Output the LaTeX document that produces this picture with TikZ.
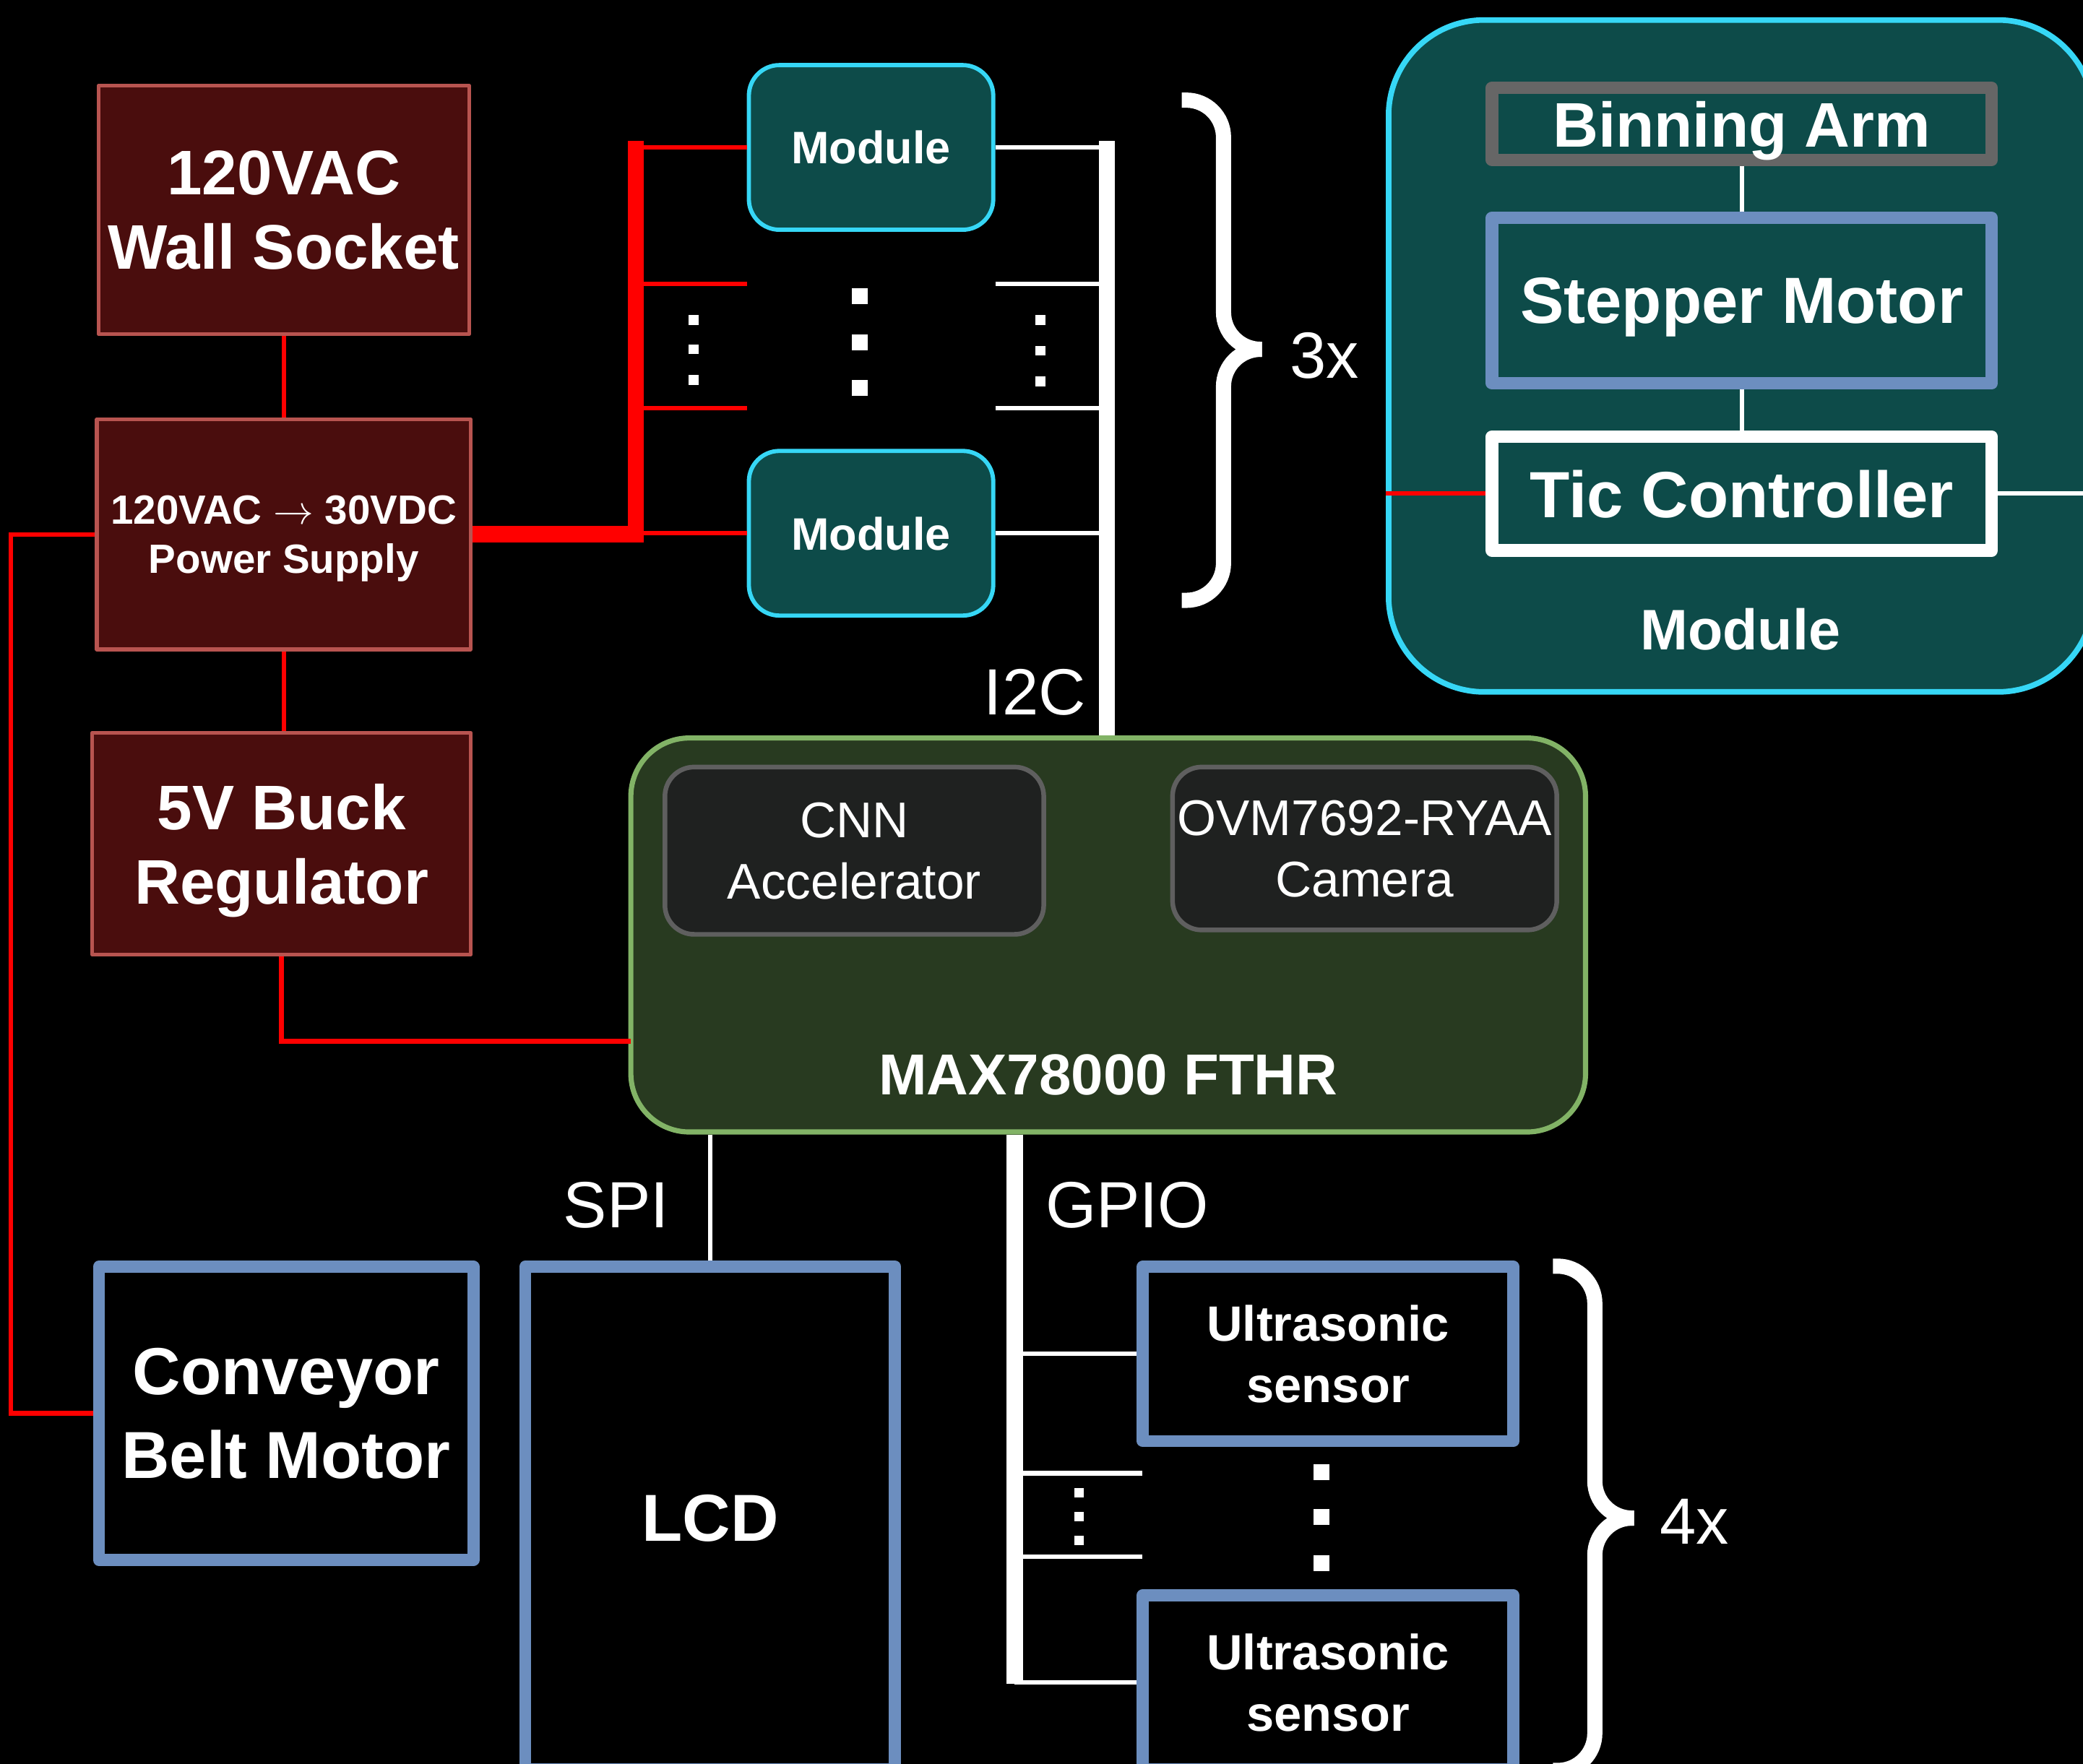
\documentclass[tikz,border=0pt]{standalone}
\usepackage{fontspec}
\setmainfont{Liberation Sans}
\usepackage{tikz}
\usetikzlibrary{shapes,positioning,calc}

\definecolor{pwrfill}{HTML}{4A0D0D}
\definecolor{pwredge}{HTML}{B85450}
\definecolor{modfill}{HTML}{0D4B49}
\definecolor{modedge}{HTML}{36D7F6}
\definecolor{mcufill}{HTML}{283A20}
\definecolor{mcuedge}{HTML}{82B366}
\definecolor{chipfill}{HTML}{1F2120}
\definecolor{chipedge}{HTML}{5F5F5F}
\definecolor{devedge}{HTML}{6C8EBF}
\definecolor{armedge}{HTML}{666666}

\tikzstyle{power} = [rectangle, draw=pwredge, fill=pwrfill, line width=1.6pt, line join=round, text=white, align=center, inner sep=0pt, text depth=0pt]
\tikzstyle{device} = [rectangle, draw=devedge, line width=5.2pt, line join=round, text=white, align=center, inner sep=0pt, text depth=0pt]
\tikzstyle{part} = [rectangle, line width=5.35pt, line join=round, text=white, inner sep=0pt, text depth=0pt, minimum width=7.526cm, font=\fontsize{28}{32}\selectfont\bfseries]
\tikzstyle{modbox} = [rectangle, rounded corners=0.46cm, draw=modedge, fill=modfill, line width=1.8pt, text=white, inner sep=0pt, text depth=0pt, font=\fontsize{19.5}{23}\selectfont\bfseries]
\tikzstyle{chip} = [rectangle, rounded corners=0.44cm, draw=chipedge, fill=chipfill, line width=2pt, text=white, align=center, inner sep=0pt, text depth=0pt, font=\fontsize{21.5}{26.5}\selectfont]
\tikzstyle{buslbl} = [text=white, inner sep=0pt, text depth=0pt, font=\fontsize{28}{32}\selectfont]
\tikzstyle{redline} = [red, line width=1.95pt]
\tikzstyle{redrail} = [red, line width=7pt]
\tikzstyle{sigline} = [white, line width=1.9pt]
\tikzstyle{sigbus} = [white, line width=7pt]
\tikzstyle{curly} = [white, line width=6.5pt, rounded corners=0.56cm]

\begin{document}
\begin{tikzpicture}[x=0.02cm, y=-0.02cm]

\useasboundingbox (0,0) rectangle (1568,1328);
\fill[black] (0,0) rectangle (1568,1328);
\clip (0,0) rectangle (1568,1328);

% Power column
\node (wall) [power, minimum width=5.58cm, minimum height=3.744cm, font=\fontsize{27}{31.7}\selectfont\bfseries] at (213.6,158) {120VAC\\Wall Socket};
\node (psu) [power, minimum width=5.63cm, minimum height=3.468cm, font=\fontsize{17.5}{21.3}\selectfont\bfseries] at (213.6,402.3) {120VAC $\rightarrow$ 30VDC\\Power Supply};
\node (buck) [power, minimum width=5.7cm, minimum height=3.344cm, font=\fontsize{27}{31.9}\selectfont\bfseries] at (211.9,635.3) {5V Buck\\Regulator};

% Modules (3x)
\node (modA) [modbox, minimum width=3.68cm, minimum height=2.48cm] at (655.7,111) {Module};
\node (modB) [modbox, minimum width=3.68cm, minimum height=2.48cm] at (655.7,401.5) {Module};

% Module detail
\node (modbig) [modbox, rounded corners=1.44cm, line width=2.4pt, minimum width=10.616cm, minimum height=10.12cm] at (1310.6,268) {};
\node (arm) [part, draw=armedge, minimum height=1.084cm, font=\fontsize{27}{31}\selectfont\bfseries] at (1311.15,93.3) {Binning Arm};
\node (stepper) [part, draw=devedge, minimum height=2.49cm] at (1311.15,226.35) {Stepper Motor};
\node (tic) [part, draw=white, minimum height=1.714cm] at (1311.15,371.65) {Tic Controller};
\node (modlbl) [buslbl, font=\fontsize{24.5}{28}\selectfont\bfseries] at (1310,473.5) {Module};

% Microcontroller
\node (fthr) [rectangle, rounded corners=0.88cm, draw=mcuedge, fill=mcufill, line width=2.2pt, minimum width=14.376cm, minimum height=5.934cm] at (834.2,703.95) {};
\node (cnn) [chip, minimum width=5.704cm, minimum height=2.52cm] at (643.1,640.5) {CNN\\Accelerator};
\node (cam) [chip, minimum width=5.786cm, minimum height=2.454cm] at (1027.25,638.85) {OVM7692-RYAA\\Camera};
\node (fthrlbl) [buslbl, font=\fontsize{24.75}{28}\selectfont\bfseries] at (834.2,809) {MAX78000 FTHR};

% Outputs and sensors
\node (belt) [device, minimum width=5.638cm, minimum height=4.416cm, font=\fontsize{28.5}{35.9}\selectfont\bfseries] at (215.4,1064.1) {Conveyor\\Belt Motor};
\node (lcd) [device, minimum width=5.568cm, minimum height=7.566cm, font=\fontsize{28.5}{32}\selectfont\bfseries] at (534.6,1142.85) {LCD};
\node (sensA) [device, minimum width=5.578cm, minimum height=2.626cm, font=\fontsize{21.25}{26.3}\selectfont\bfseries] at (999.75,1019.35) {Ultrasonic\\sensor};
\node (sensB) [device, minimum width=5.578cm, minimum height=2.626cm, font=\fontsize{21.25}{26.3}\selectfont\bfseries] at (999.75,1266.65) {Ultrasonic\\sensor};

% Bus labels
\node (i2clbl) [buslbl] at (779,520.8) {I2C};
\node (spilbl) [buslbl] at (463.7,907.4) {SPI};
\node (gpiolbl) [buslbl] at (848.5,907.4) {GPIO};
\node (threex) [buslbl] at (997,267.4) {3x};
\node (fourx) [buslbl] at (1275.4,1145.6) {4x};

% Free ends
\coordinate (railtop) at (478.6,106.2);
\coordinate (i2ctop) at (833.2,106.2);
\coordinate (gpiobot) at (763.8,1268);
\coordinate (pwrStubA) at (562.2,213.7);
\coordinate (pwrStubB) at (562.2,307.3);
\coordinate (i2cStubA) at (749.2,213.7);
\coordinate (i2cStubB) at (749.2,307.3);
\coordinate (gpioStubA) at (860.1,1109.2);
\coordinate (gpioStubB) at (860.1,1172.2);
\coordinate (fthrpwr) at (474.8,784);
\coordinate (ticout) at (1580,371.65);

% Power wiring
\draw [redline] (wall.south) -- (psu.north);
\draw [redline] (psu.south) -- (psu.south |- buck.north);
\draw [redline] (buck.south) |- (fthrpwr);
\draw [redline] (psu.west) -- ++(-63.2,0) |- (belt.west);
\draw [redline] (modA.west -| railtop) -- (modA.west);
\draw [redline] (pwrStubA -| railtop) -- (pwrStubA);
\draw [redline] (pwrStubB -| railtop) -- (pwrStubB);
\draw [redline] (modB.west -| railtop) -- (modB.west);
\draw [redrail] (psu.east) -| (railtop);

% I2C wiring
\draw [sigline] (modA.east) -- (modA.east -| i2ctop);
\draw [sigline] (i2cStubA) -- (i2cStubA -| i2ctop);
\draw [sigline] (i2cStubB) -- (i2cStubB -| i2ctop);
\draw [sigline] (modB.east) -- (modB.east -| i2ctop);
\draw [sigbus] (i2ctop) -- (i2ctop |- fthr.north);

% Inside the module
\draw [sigline] (arm.south) -- (stepper.north);
\draw [sigline] (stepper.south) -- (tic.north);
\draw [redline] (tic.west -| modbig.west) -- (tic.west);
\draw [sigline] (tic.east) -- (ticout);

% SPI and GPIO wiring
\draw [sigline] (fthr.south -| lcd.north) -- (lcd.north);
\draw [sigline] (sensA.west -| gpiobot) -- (sensA.west);
\draw [sigline] (gpioStubA -| gpiobot) -- (gpioStubA);
\draw [sigline] (gpioStubB -| gpiobot) -- (gpioStubB);
\draw [sigline] (sensB.west -| gpiobot) -- (sensB.west);
\draw [sigbus] (gpiobot |- fthr.south) -- (gpiobot);

% Dots
\foreach \y in {241,263,286} \fill[white] (522,\y) +(-3.75,-3.75) rectangle +(3.75,3.75);
\foreach \y in {223,258,292} \fill[white] (647,\y) +(-6,-6) rectangle +(6,6);
\foreach \y in {241,264,287} \fill[white] (783,\y) +(-3.75,-3.75) rectangle +(3.75,3.75);
\foreach \y in {1123.8,1141.7,1159.7} \fill[white] (812.5,\y) +(-3.5,-3.5) rectangle +(3.5,3.5);
\foreach \y in {1108.4,1142.1,1176.7} \fill[white] (994.5,\y) +(-6,-6) rectangle +(6,6);

% Braces
\draw [curly] (889.6,75.4) -- (921,75.4) -- (921,263) -- (950,263);
\draw [curly] (889.6,452) -- (921,452) -- (921,263) -- (950,263);
\draw [curly] (1169,953.3) -- (1200.5,953.3) -- (1200.5,1143) -- (1230,1143);
\draw [curly] (1169,1333) -- (1200.5,1333) -- (1200.5,1143) -- (1230,1143);

\end{tikzpicture}
\end{document}
